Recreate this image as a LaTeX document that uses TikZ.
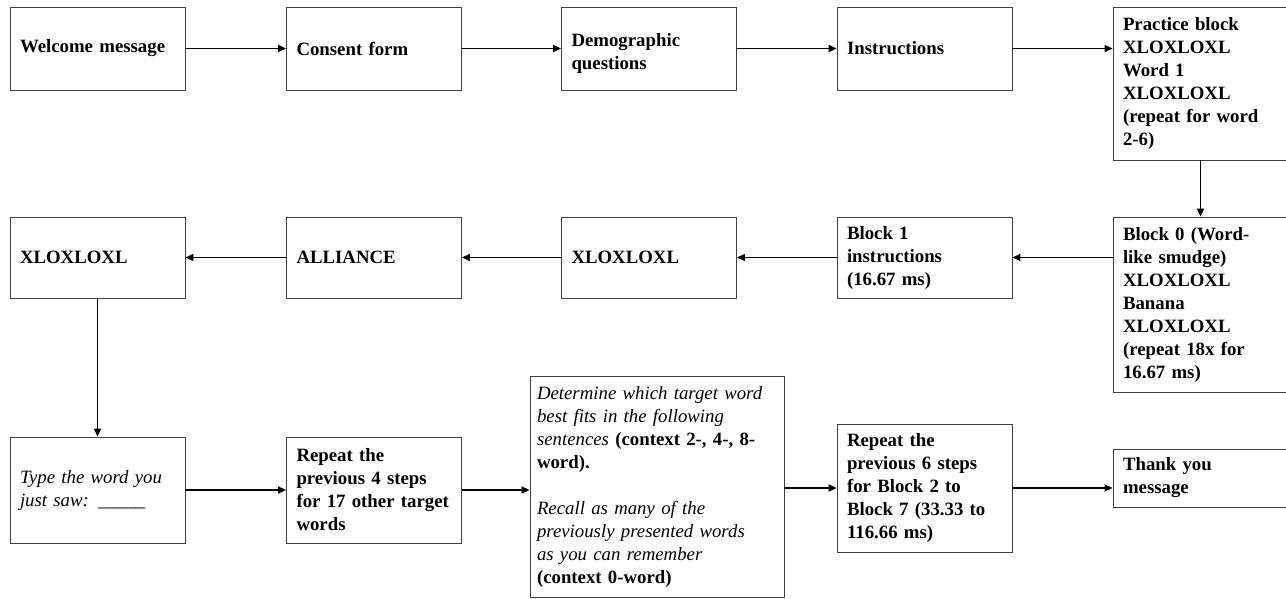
\documentclass[tikz,border=0pt]{standalone}
\usepackage{fontspec}
\setmainfont{Liberation Serif}
\usetikzlibrary{arrows.meta}

\begin{document}
\begin{tikzpicture}[x=1pt,y=-1pt,
    box/.style={draw=black!75,line width=0.9pt,rectangle,inner xsep=10pt,inner ysep=2pt,
      minimum width=175pt,text width=155pt,align=left,
      font=\fontsize{18.8}{23}\selectfont\bfseries},
    note/.style={box,font=\fontsize{18.8}{23}\selectfont\itshape},
    wide/.style={box,minimum width=254pt,text width=240pt,inner xsep=7pt,
      font=\fontsize{18.8}{23}\selectfont\itshape},
    arr/.style={-{Triangle[length=8pt,width=7pt]},line width=1.8pt}]
      \useasboundingbox (0,0) rectangle (1286,599);
      \node[box,minimum height=83pt] (welcome) at (97.5,48.5) {Welcome message};
      \node[box,minimum height=83pt] (consent) at (374,48.5) {Consent form};
      \node[box,minimum height=83pt] (demo) at (649,48.5) {\mbox{}\\Demographic\\questions};
      \node[box,minimum height=83pt] (instr) at (924.5,48.5) {Instructions};
      \node[box,minimum height=153pt] (practice) at (1200.5,83.5) {Practice block\\XLOXLOXL\\Word 1\\XLOXLOXL\\(repeat for word\\2-6)};
      \node[box,minimum height=81pt] (xlox) at (97.5,257.5) {XLOXLOXL};
      \node[box,minimum height=81pt] (alliance) at (374,257.5) {ALLIANCE};
      \node[box,minimum height=81pt] (mask) at (649,257.5) {XLOXLOXL};
      \node[box,minimum height=81pt] (blockone) at (924.5,257.5) {Block 1\\instructions\\(16.67 ms)};
      \node[box,minimum height=175pt] (blockzero) at (1200.5,304.5) {Block 0 (Word-\\like smudge)\\XLOXLOXL\\Banana\\XLOXLOXL\\(repeat 18x for\\16.67 ms)};
      \node[note,minimum height=106pt] (typeword) at (97.5,490) {Type the word you\\just saw: \_\_\_\_\_};
      \node[box,minimum height=106pt] (repfour) at (374,490) {Repeat the\\previous 4 steps\\for 17 other target\\words};
      \node[wide,minimum height=221pt] (sentences) at (657,486.5) {Determine which target word\\best fits in the following\\sentences \textbf{\upshape(context 2-, 4-, 8-}\\\textbf{\upshape word).}\\[23pt]Recall as many of the\\previously presented words\\as you can remember\\\textbf{\upshape(context 0-word)}};
      \node[box,minimum height=128pt] (repsix) at (924.5,488) {Repeat the\\previous 6 steps\\for Block 2 to\\Block 7 (33.33 to\\116.66 ms)};
      \node[box,minimum height=58pt] (thanks) at (1200.5,478) {Thank you\\message};
      \draw[arr] (welcome) -- (consent);
      \draw[arr] (consent) -- (demo);
      \draw[arr] (demo) -- (instr);
      \draw[arr] (instr.east) -- (instr.east -| practice.west);
      \draw[arr] (practice) -- (blockzero);
      \draw[arr] (blockone.east -| blockzero.west) -- (blockone.east);
      \draw[arr] (blockone) -- (mask);
      \draw[arr] (mask) -- (alliance);
      \draw[arr] (alliance) -- (xlox);
      \draw[arr] (xlox) -- (typeword);
      \draw[arr] (typeword) -- (repfour);
      \draw[arr] (repfour.east) -- (repfour.east -| sentences.west);
      \draw[arr] (repsix.west -| sentences.east) -- (repsix.west);
      \draw[arr] (repsix.east) -- (repsix.east -| thanks.west);
    \end{tikzpicture}
\end{document}
